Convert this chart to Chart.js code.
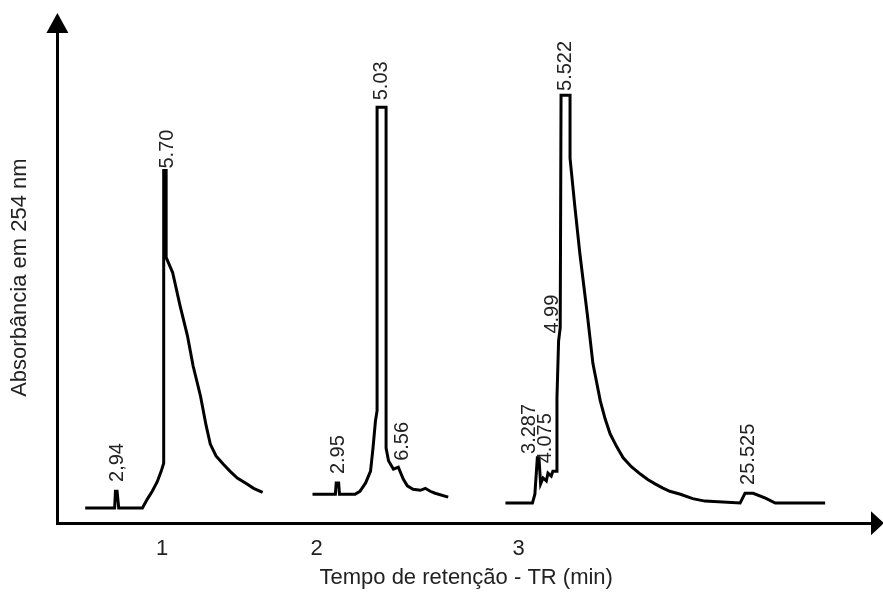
<!DOCTYPE html>
<html>
<head>
<meta charset="utf-8">
<script src="https://cdn.jsdelivr.net/npm/chart.js@4/dist/chart.umd.min.js"></script>
<style>
  html, body { margin: 0; padding: 0; background: #fff; }
  canvas { display: block; }
</style>
</head>
<body>
<canvas id="hplcChart" width="883" height="602"></canvas>
<script>
// chromatogram traces (x = position along the run axis, y = absorbance, arbitrary units)
const run1X = [3.4, 7.0, 7.1, 7.3, 7.5, 10.4, 11.0, 11.6, 12.2, 12.7, 13.0, 13.0, 13.3, 13.3, 14.1, 15.0, 15.9, 16.6, 17.5, 18.2, 18.7, 19.4, 20.3, 21.1, 22.0, 23.0, 24.0, 25.1];
const run1Y = [3.1, 3.1, 6.5, 6.5, 3.1, 3.1, 4.9, 6.5, 8.4, 10.6, 12.2, 71.8, 71.8, 54.1, 51.0, 44.3, 38.2, 32.0, 25.9, 19.8, 16.1, 13.7, 12.0, 10.6, 9.2, 8.2, 7.1, 6.3];

const run2X = [31.2, 34.0, 34.1, 34.4, 34.5, 36.4, 37.0, 37.7, 38.3, 38.6, 38.9, 39.1, 39.1, 40.2, 40.2, 40.5, 41.1, 41.7, 42.3, 42.8, 43.5, 44.4, 45.0, 45.6, 46.2, 47.8];
const run2Y = [5.9, 5.9, 8.2, 8.2, 5.9, 5.9, 6.5, 8.2, 10.6, 15.3, 20.8, 22.9, 84.7, 84.7, 15.3, 12.7, 11.0, 11.4, 9.0, 7.6, 6.9, 6.7, 7.1, 6.5, 6.1, 5.3];

const run3X = [54.8, 58.1, 58.4, 58.7, 58.9, 59.1, 59.4, 59.8, 60.0, 60.4, 60.6, 61.0, 61.1, 61.3, 61.5, 61.6, 62.7, 62.7, 63.3, 63.9, 64.8, 65.5, 66.4, 67.0, 67.6, 68.4, 69.2, 70.2, 71.3, 72.2, 73.1, 74.0, 74.9, 76.2, 77.7, 79.2, 83.5, 84.1, 85.1, 86.6, 87.8, 93.9];
const run3Y = [4.1, 4.1, 5.9, 13.3, 13.3, 8.0, 9.2, 8.6, 10.2, 9.6, 10.6, 10.6, 25.5, 37.1, 39.8, 87.1, 87.1, 74.3, 64.3, 54.9, 42.7, 32.5, 24.9, 21.2, 18.2, 15.6, 13.3, 11.5, 10.0, 8.9, 8.0, 7.2, 6.5, 5.9, 5.0, 4.5, 4.1, 6.1, 6.1, 5.1, 4.1, 4.1];

// retention time labels written above the peaks
const peakLabels = ['2,94', '5.70', '2.95', '5.03', '6.56', '3.287', '4.075', '4.99', '5.522', '25.525'];
const peakX = [7.3, 13.45, 34.35, 39.6, 42.2, 57.8, 59.7, 60.6, 62.2, 84.5];
const peakY = [8.4, 72.2, 10.0, 86.1, 12.7, 14.1, 12.2, 38.6, 88.0, 7.8];

// run numbers on the x axis
const runTickPos = [12.8, 31.7, 56.4];
const runTickLabels = ['1', '2', '3'];

const toPoints = (xs, ys) => xs.map((x, i) => ({ x: x, y: ys[i] }));

const traceStyle = {
    showLine: true,
    borderColor: '#000',
    borderWidth: 3,
    pointRadius: 0,
    tension: 0,
    fill: false
};

const peakLabelPlugin = {
    id: 'peakLabels',
    afterDatasetsDraw(chart) {
        const { ctx, scales } = chart;
        ctx.save();
        ctx.fillStyle = '#222';
        ctx.font = '20px "Liberation Sans", Arial, sans-serif';
        ctx.textAlign = 'left';
        ctx.textBaseline = 'middle';
        peakLabels.forEach((txt, i) => {
            const px = scales.x.getPixelForValue(peakX[i]);
            const py = scales.y.getPixelForValue(peakY[i]);
            ctx.save();
            ctx.translate(px, py);
            ctx.rotate(-Math.PI / 2);
            ctx.fillText(txt, 0, 0);
            ctx.restore();
        });
        ctx.restore();
    }
};

const arrowPlugin = {
    id: 'axisArrows',
    afterDraw(chart) {
        const { ctx, chartArea } = chart;
        const l = chartArea.left, b = chartArea.bottom, t = chartArea.top, r = chartArea.right;
        ctx.save();
        ctx.fillStyle = '#000';
        // y arrow
        ctx.beginPath();
        ctx.moveTo(l, t - 19);
        ctx.lineTo(l - 11, t + 1);
        ctx.lineTo(l + 11, t + 1);
        ctx.closePath();
        ctx.fill();
        // x arrow
        ctx.beginPath();
        ctx.moveTo(r + 9, b);
        ctx.lineTo(r - 4, b - 12);
        ctx.lineTo(r - 4, b + 12);
        ctx.closePath();
        ctx.fill();
        ctx.restore();
    }
};

new Chart(document.getElementById('hplcChart'), {
    type: 'scatter',
    data: {
        datasets: [
            Object.assign({ label: '1', data: toPoints(run1X, run1Y) }, traceStyle),
            Object.assign({ label: '2', data: toPoints(run2X, run2Y) }, traceStyle),
            Object.assign({ label: '3', data: toPoints(run3X, run3Y) }, traceStyle)
        ]
    },
    options: {
        responsive: false,
        animation: false,
        layout: { padding: { top: 32, left: 3, right: 8, bottom: 0 } },
        plugins: {
            legend: { display: false },
            tooltip: { enabled: false }
        },
        scales: {
            x: {
                type: 'linear',
                min: 0,
                max: 100,
                grid: { display: false, drawTicks: false },
                border: { display: true, color: '#000', width: 3 },
                afterBuildTicks: (scale) => {
                    scale.ticks = runTickPos.map(v => ({ value: v }));
                },
                ticks: {
                    padding: 13,
                    color: '#222',
                    font: { family: '"Liberation Sans", Arial, sans-serif', size: 22 },
                    callback: (value) => {
                        const i = runTickPos.indexOf(value);
                        return i >= 0 ? runTickLabels[i] : '';
                    }
                },
                title: {
                    display: true,
                    text: 'Tempo de retenção - TR (min)',
                    color: '#222',
                    font: { family: '"Liberation Sans", Arial, sans-serif', size: 22 },
                    padding: { top: -11, bottom: 11 }
                }
            },
            y: {
                type: 'linear',
                min: 0,
                max: 100,
                grid: { display: false, drawTicks: false },
                border: { display: true, color: '#000', width: 3 },
                ticks: { display: false },
                title: {
                    display: true,
                    text: 'Absorbância em 254 nm',
                    color: '#222',
                    font: { family: '"Liberation Sans", Arial, sans-serif', size: 22 },
                    padding: { top: 4, bottom: 24 }
                }
            }
        }
    },
    plugins: [peakLabelPlugin, arrowPlugin]
});
</script>
</body>
</html>
